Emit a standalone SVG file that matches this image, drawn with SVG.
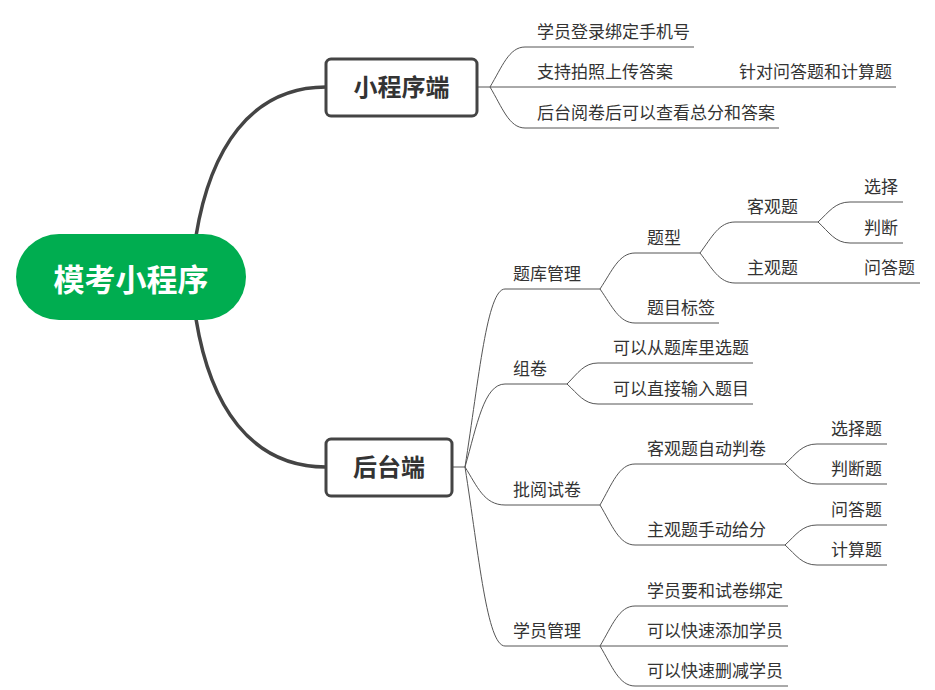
<svg xmlns="http://www.w3.org/2000/svg" width="935" height="690" viewBox="0 0 935 690">
<style>
text{font-family:"Noto Sans CJK SC","Microsoft YaHei",sans-serif;fill:#333}
.t{font-size:17px}
.m{font-size:24px;font-weight:bold;text-anchor:middle}
.r{font-size:31px;font-weight:bold;text-anchor:middle;fill:#fff}
.thick{fill:none;stroke:#444;stroke-width:3.5;stroke-linecap:round}
.thin{fill:none;stroke:#555;stroke-width:1}
.box{fill:#fff;stroke:#444;stroke-width:3}
</style>
<rect width="935" height="690" fill="#fff"/>
<g id="connectors">
<path class="thick" d="M196,236 C210,150 250,87 326,87"/>
<path class="thick" d="M196,319 C210,405 250,467 326,467"/>
<path class="thin" d="M477,87 L490,87"/>
<path class="thin" d="M490,87 C502,67 509,47 525,47 L694,47"/>
<path class="thin" d="M490,87 L730,87"/>
<path class="thin" d="M730,87 L896,87"/>
<path class="thin" d="M490,87 C502,107 509,128 525,128 L779,128"/>
<path class="thin" d="M452,467 L465,467"/>
<path class="thin" d="M465,467 C479,378 487,289 505,289 L600,289"/>
<path class="thin" d="M465,467 C477,425 484,384 505,384 L567,384"/>
<path class="thin" d="M465,467 C477,486 484,505 505,505 L600,505"/>
<path class="thin" d="M465,467 C479,556 487,646 505,646 L600,646"/>
<path class="thin" d="M600,289 C612,271 619,253 635,253 L700,253"/>
<path class="thin" d="M600,289 C612,306 619,323 635,323 L719,323"/>
<path class="thin" d="M700,253 C712,237 719,222 735,222 L818,222"/>
<path class="thin" d="M700,253 C712,268 719,283 735,283 L855,283"/>
<path class="thin" d="M855,283 L920,283"/>
<path class="thin" d="M818,222 C829,212 835,202 850,202 L903,202"/>
<path class="thin" d="M818,222 C829,232 835,243 850,243 L903,243"/>
<path class="thin" d="M567,384 C578,373 584,363 598,363 L753,363"/>
<path class="thin" d="M567,384 C578,394 584,404 598,404 L753,404"/>
<path class="thin" d="M600,505 C612,484 619,464 635,464 L785,464"/>
<path class="thin" d="M600,505 C612,525 619,545 635,545 L785,545"/>
<path class="thin" d="M785,464 C796,454 802,444 817,444 L887,444"/>
<path class="thin" d="M785,464 C796,474 802,484 817,484 L887,484"/>
<path class="thin" d="M785,545 C796,535 802,525 817,525 L887,525"/>
<path class="thin" d="M785,545 C796,555 802,565 817,565 L887,565"/>
<path class="thin" d="M600,646 C612,626 619,606 635,606 L788,606"/>
<path class="thin" d="M600,646 L788,646"/>
<path class="thin" d="M600,646 C612,666 619,686 635,686 L788,686"/>
</g>
<g id="root">
<rect x="16" y="234" width="230" height="86" rx="43" fill="#00AD50"/>
<text class="r" x="131" y="291">模考小程序</text>
</g>
<g id="n-miniapp">
<rect class="box" x="326" y="59" width="151" height="57" rx="5"/>
<text class="m" x="401.5" y="96">小程序端</text>
</g>
<g id="n-backend">
<rect class="box" x="326" y="439" width="126" height="57" rx="5"/>
<text class="m" x="389" y="476">后台端</text>
</g>
<g id="n-a1"><text class="t" x="537" y="38">学员登录绑定手机号</text></g>
<g id="n-a2"><text class="t" x="537" y="78">支持拍照上传答案</text></g>
<g id="n-a2a"><text class="t" x="739" y="78">针对问答题和计算题</text></g>
<g id="n-a3"><text class="t" x="537" y="119">后台阅卷后可以查看总分和答案</text></g>
<g id="n-b1"><text class="t" x="513" y="280">题库管理</text></g>
<g id="n-b1a"><text class="t" x="647" y="244">题型</text></g>
<g id="n-b1a1"><text class="t" x="747" y="213">客观题</text></g>
<g id="n-b1a1a"><text class="t" x="864" y="193">选择</text></g>
<g id="n-b1a1b"><text class="t" x="864" y="234">判断</text></g>
<g id="n-b1a2"><text class="t" x="747" y="274">主观题</text></g>
<g id="n-b1a2a"><text class="t" x="864" y="274">问答题</text></g>
<g id="n-b1b"><text class="t" x="647" y="314">题目标签</text></g>
<g id="n-b2"><text class="t" x="513" y="375">组卷</text></g>
<g id="n-b2a"><text class="t" x="613" y="354">可以从题库里选题</text></g>
<g id="n-b2b"><text class="t" x="613" y="395">可以直接输入题目</text></g>
<g id="n-b3"><text class="t" x="513" y="496">批阅试卷</text></g>
<g id="n-b3a"><text class="t" x="647" y="455">客观题自动判卷</text></g>
<g id="n-b3a1"><text class="t" x="831" y="435">选择题</text></g>
<g id="n-b3a2"><text class="t" x="831" y="475">判断题</text></g>
<g id="n-b3b"><text class="t" x="647" y="536">主观题手动给分</text></g>
<g id="n-b3b1"><text class="t" x="831" y="516">问答题</text></g>
<g id="n-b3b2"><text class="t" x="831" y="556">计算题</text></g>
<g id="n-b4"><text class="t" x="513" y="637">学员管理</text></g>
<g id="n-b4a"><text class="t" x="647" y="597">学员要和试卷绑定</text></g>
<g id="n-b4b"><text class="t" x="647" y="637">可以快速添加学员</text></g>
<g id="n-b4c"><text class="t" x="647" y="677">可以快速删减学员</text></g>
</svg>
